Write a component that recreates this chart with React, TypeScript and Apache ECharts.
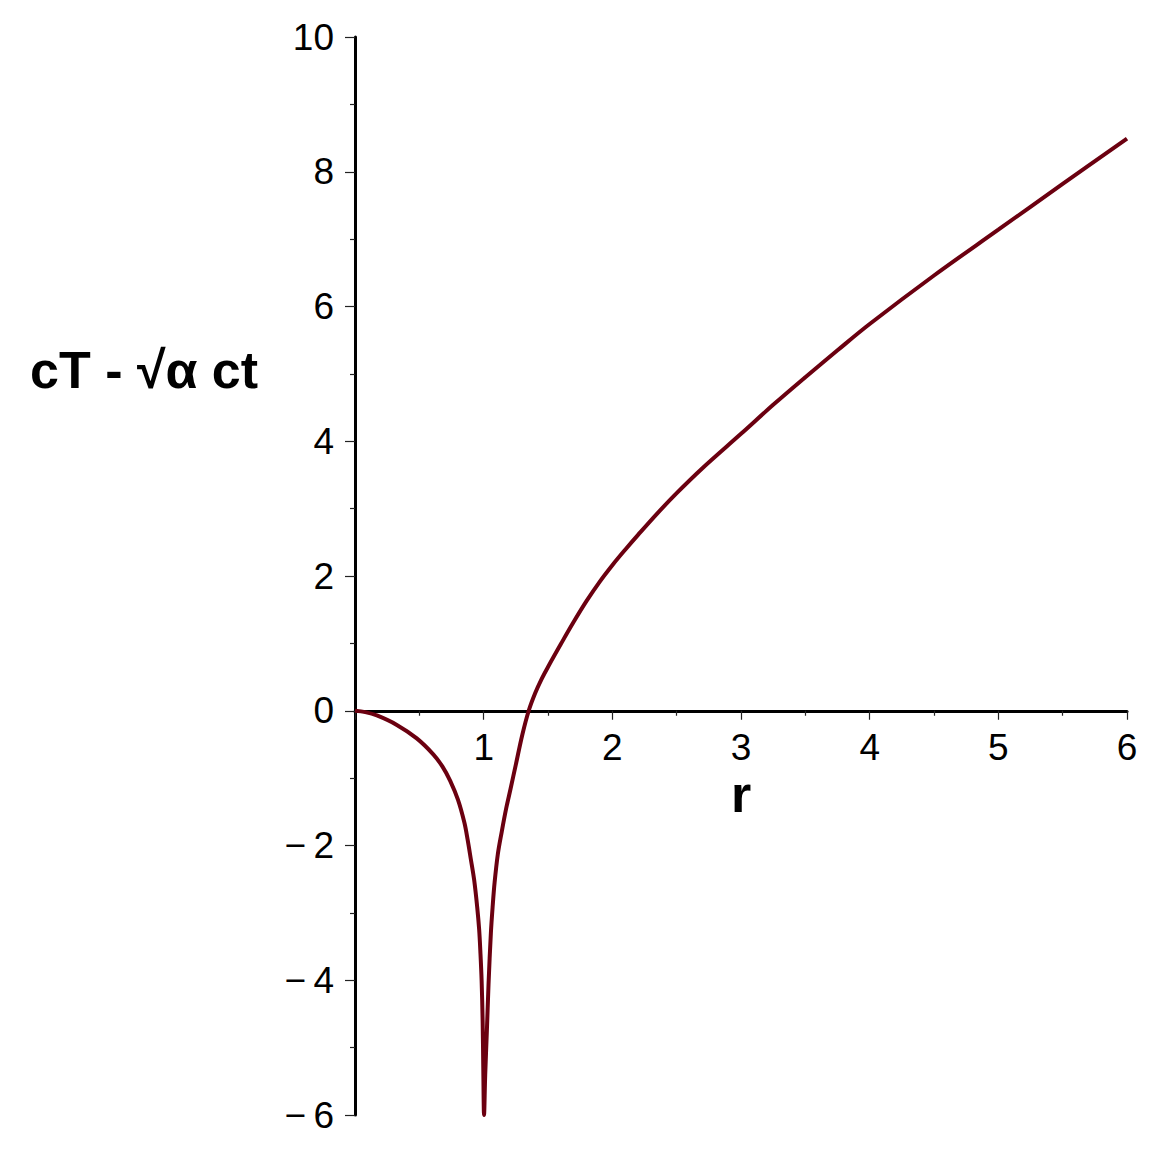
import React, { useEffect, useRef } from "react";
import * as echarts from "echarts";

// r values
const rValues = [
  0, 0.08, 0.17, 0.325, 0.48, 0.61, 0.68, 0.74, 0.8, 0.85, 0.875, 0.9, 0.926, 0.95, 0.965,
  0.975, 0.984, 0.992, 0.997, 1.003,
  1.012, 1.025, 1.038, 1.056, 1.07, 1.085, 1.11, 1.14, 1.175, 1.21, 1.25, 1.3, 1.35, 1.4,
  1.45, 1.5, 1.6, 1.7, 1.8, 1.9, 2.0, 2.1, 2.2, 2.35, 2.5, 2.7, 3.0, 3.25, 3.5, 3.75, 4.0,
  4.5, 5.0, 5.5, 6.0,
];
// cT - √α ct values
const yValues = [
  0, -0.02, -0.07, -0.21, -0.41, -0.65, -0.83, -1.04, -1.32, -1.66, -1.91, -2.2, -2.51, -2.92, -3.25,
  -3.6, -4.0, -4.6, -5.3, -6.0,
  -5.4, -4.75, -4.05, -3.3, -2.9, -2.55, -2.13, -1.8, -1.45, -1.15, -0.8, -0.36, 0, 0.26,
  0.47, 0.65, 0.99, 1.32, 1.63, 1.91, 2.16, 2.39, 2.61, 2.93, 3.23, 3.6, 4.11, 4.54, 4.95, 5.35, 5.74,
  6.46, 7.14, 7.82, 8.49,
];
const xTickLabels = ["", "1", "2", "3", "4", "5", "6"];
const yAxisTitle = "cT - √α ct";
const xAxisTitle = "r";

const GRID_TOP = 37;
const GRID_BOTTOM = 41;
const Y_MIN = -6;
const Y_MAX = 10;

export default function App() {
  const ref = useRef<HTMLDivElement>(null);
  useEffect(() => {
    if (!ref.current) return;
    const chart = echarts.init(ref.current, undefined, { renderer: "svg" });
    const data = rValues.map((r, i) => [r, yValues[i]]);
    const font = "'Liberation Sans', Arial, Helvetica, sans-serif";
    const gridH = 1156 - GRID_TOP - GRID_BOTTOM;
    const zeroFromBottom = (gridH * (0 - Y_MIN)) / (Y_MAX - Y_MIN);
    chart.setOption({
      animation: false,
      backgroundColor: "#ffffff",
      grid: {
        left: 355,
        right: 29,
        top: GRID_TOP,
        bottom: GRID_BOTTOM,
        containLabel: false,
        outerBoundsMode: "none",
      },
      xAxis: {
        type: "value",
        min: 0,
        max: 6,
        interval: 1,
        position: "bottom",
        offset: -zeroFromBottom,
        axisLine: { onZero: false, lineStyle: { color: "#000", width: 3 } },
        axisTick: { show: true, length: 9, lineStyle: { color: "#222", width: 1.2 } },
        minorTick: { show: true, splitNumber: 2, length: 5, lineStyle: { color: "#222", width: 1.2 } },
        splitLine: { show: false },
        axisLabel: {
          margin: 18,
          fontSize: 37,
          fontFamily: font,
          color: "#000",
          formatter: (v: number) => xTickLabels[Math.round(v)] ?? "",
        },
      },
      yAxis: {
        type: "value",
        min: Y_MIN,
        max: Y_MAX,
        interval: 2,
        axisLine: { onZero: false, lineStyle: { color: "#000", width: 3 } },
        axisTick: { show: true, length: 10, lineStyle: { color: "#222", width: 1.2 } },
        minorTick: { show: true, splitNumber: 2, length: 5, lineStyle: { color: "#222", width: 1.2 } },
        splitLine: { show: false },
        axisLabel: {
          margin: 21,
          fontSize: 37,
          fontFamily: font,
          color: "#000",
          formatter: (v: number) => (v < 0 ? "\u2212\u2009" + String(-v) : String(v)),
        },
      },
      graphic: [
        {
          type: "text",
          left: 30,
          top: 344,
          style: {
            text: yAxisTitle,
            font: `bold 52px ${font}`,
            fill: "#000",
          },
        },
        {
          type: "text",
          left: 731,
          top: 768,
          style: {
            text: xAxisTitle,
            font: `bold 52px ${font}`,
            fill: "#000",
          },
        },
      ],
      series: [
        {
          type: "line",
          data,
          showSymbol: false,
          smooth: 0.35,
          lineStyle: { color: "#6b0010", width: 4 },
          clip: true,
        },
      ],
    });
    return () => chart.dispose();
  }, []);
  return (
    <div
      ref={ref}
      style={{ position: "fixed", left: 0, top: 0, width: 1156, height: 1156, background: "#fff" }}
    />
  );
}
